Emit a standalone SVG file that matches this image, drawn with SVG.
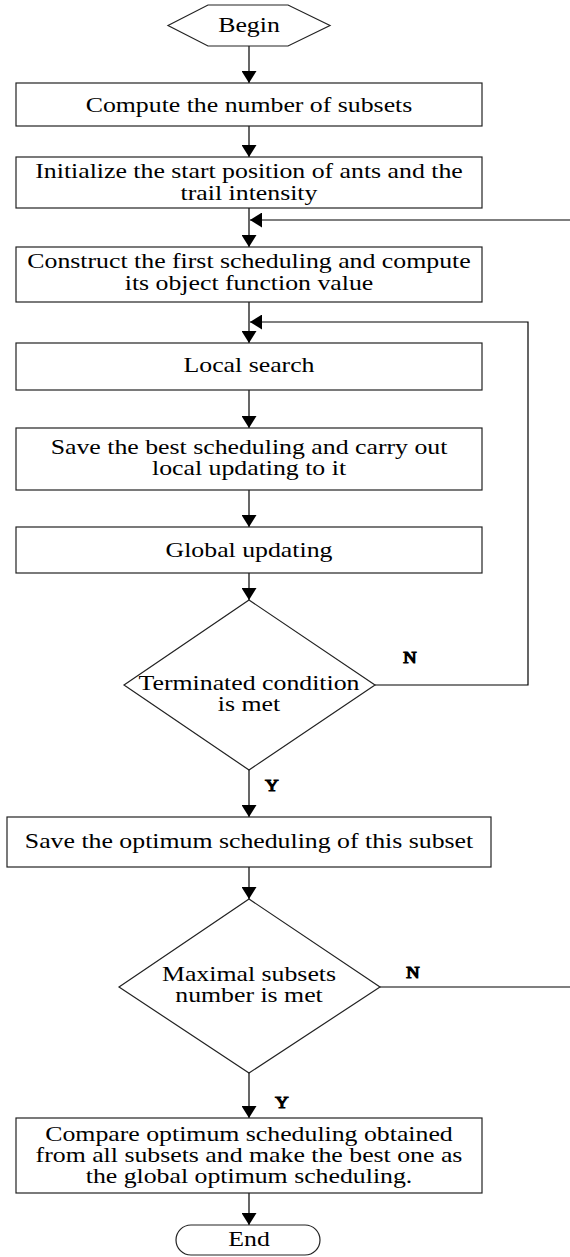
<svg xmlns="http://www.w3.org/2000/svg" width="570" height="1257" viewBox="0 0 570 1257">
  <style>
    .shape { fill: #fff; stroke: #222; stroke-width: 1.2; }
    .conn { fill: none; stroke: #000; stroke-width: 1.2; }
    .lbl { font-family: "Liberation Serif", "Times New Roman", serif; font-size: 21.5px; fill: #000; text-anchor: middle; }
    .yn { font-family: "Liberation Serif", "Times New Roman", serif; font-size: 16px; fill: #000; text-anchor: middle; }
  </style>
  <defs>
    <marker id="arrow" viewBox="0 0 12 15" refX="12" refY="7.5" markerWidth="12" markerHeight="15" orient="auto" markerUnits="userSpaceOnUse">
      <path d="M0,0 L12,7.5 L0,15 z" fill="#000"/>
    </marker>
  </defs>
  <rect width="570" height="1257" fill="#fff"/>

  <!-- connectors -->
  <g id="connectors" class="conn">
    <path d="M249,46 V83" marker-end="url(#arrow)"/>
    <path d="M249,126 V157" marker-end="url(#arrow)"/>
    <path d="M249,208 V247" marker-end="url(#arrow)"/>
    <path d="M249,302 V343" marker-end="url(#arrow)"/>
    <path d="M249,390 V428" marker-end="url(#arrow)"/>
    <path d="M249,490 V527" marker-end="url(#arrow)"/>
    <path d="M249,573 V600" marker-end="url(#arrow)"/>
    <path d="M249,770 V817" marker-end="url(#arrow)"/>
    <path d="M249,867 V899" marker-end="url(#arrow)"/>
    <path d="M249,1073 V1118" marker-end="url(#arrow)"/>
    <path d="M249,1193 V1225" marker-end="url(#arrow)"/>
    <!-- inner loop: terminated condition not met -->
    <path d="M375,685 H528 V322 H250" marker-end="url(#arrow)"/>
    <!-- outer loop: maximal subsets number not met -->
    <path d="M380,987 H580 V220 H250" marker-end="url(#arrow)"/>
    <text class="yn" transform="translate(410 0) scale(1.15 1)" y="663">N</text>
    <text class="yn" transform="translate(272 0) scale(1.15 1)" y="791">Y</text>
    <text class="yn" transform="translate(413 0) scale(1.15 1)" y="978">N</text>
    <text class="yn" transform="translate(282 0) scale(1.15 1)" y="1108">Y</text>
  </g>

  <!-- nodes -->
  <g id="begin">
    <polygon class="shape" points="168,25.5 208,5 288,5 330,25.5 288,46 208,46"/>
    <text class="lbl" transform="translate(249 0) scale(1.2 1)" y="32">Begin</text>
  </g>

  <g id="compute-subsets">
    <rect class="shape" x="16" y="83" width="466" height="43"/>
    <text class="lbl" transform="translate(249 0) scale(1.2 1)" y="112">Compute the number of subsets</text>
  </g>

  <g id="initialize">
    <rect class="shape" x="16" y="157" width="466" height="51"/>
    <text class="lbl" transform="translate(249 0) scale(1.2 1)" y="178">Initialize the start position of ants and the</text>
    <text class="lbl" transform="translate(249 0) scale(1.2 1)" y="200">trail intensity</text>
  </g>

  <g id="construct">
    <rect class="shape" x="16" y="247" width="466" height="55"/>
    <text class="lbl" transform="translate(249 0) scale(1.2 1)" y="268">Construct the first scheduling and compute</text>
    <text class="lbl" transform="translate(249 0) scale(1.2 1)" y="290">its object function value</text>
  </g>

  <g id="local-search">
    <rect class="shape" x="16" y="343" width="466" height="47"/>
    <text class="lbl" transform="translate(249 0) scale(1.2 1)" y="372">Local search</text>
  </g>

  <g id="save-best">
    <rect class="shape" x="16" y="428" width="466" height="62"/>
    <text class="lbl" transform="translate(249 0) scale(1.2 1)" y="454">Save the best scheduling and carry out</text>
    <text class="lbl" transform="translate(249 0) scale(1.2 1)" y="475">local updating to it</text>
  </g>

  <g id="global-updating">
    <rect class="shape" x="16" y="527" width="466" height="46"/>
    <text class="lbl" transform="translate(249 0) scale(1.2 1)" y="557">Global updating</text>
  </g>

  <g id="terminated">
    <polygon class="shape" points="249,600 375,685 249,770 124,685"/>
    <text class="lbl" transform="translate(249 0) scale(1.2 1)" y="690">Terminated condition</text>
    <text class="lbl" transform="translate(249 0) scale(1.2 1)" y="711">is met</text>
  </g>

  <g id="save-optimum">
    <rect class="shape" x="7" y="817" width="484" height="50"/>
    <text class="lbl" transform="translate(249 0) scale(1.2 1)" y="848">Save the optimum scheduling of this subset</text>
  </g>

  <g id="maximal">
    <polygon class="shape" points="249,899 380,987 249,1073 119,987"/>
    <text class="lbl" transform="translate(249 0) scale(1.2 1)" y="981">Maximal subsets</text>
    <text class="lbl" transform="translate(249 0) scale(1.2 1)" y="1002">number is met</text>
  </g>

  <g id="compare">
    <rect class="shape" x="16" y="1118" width="466" height="75"/>
    <text class="lbl" transform="translate(249 0) scale(1.2 1)" y="1141">Compare optimum scheduling obtained</text>
    <text class="lbl" transform="translate(249 0) scale(1.2 1)" y="1162">from all subsets and make the best one as</text>
    <text class="lbl" transform="translate(249 0) scale(1.2 1)" y="1183">the global optimum scheduling.</text>
  </g>

  <g id="end">
    <rect class="shape" x="176" y="1225" width="144" height="30" rx="15" ry="15"/>
    <text class="lbl" transform="translate(249 0) scale(1.2 1)" y="1246">End</text>
  </g>
</svg>
